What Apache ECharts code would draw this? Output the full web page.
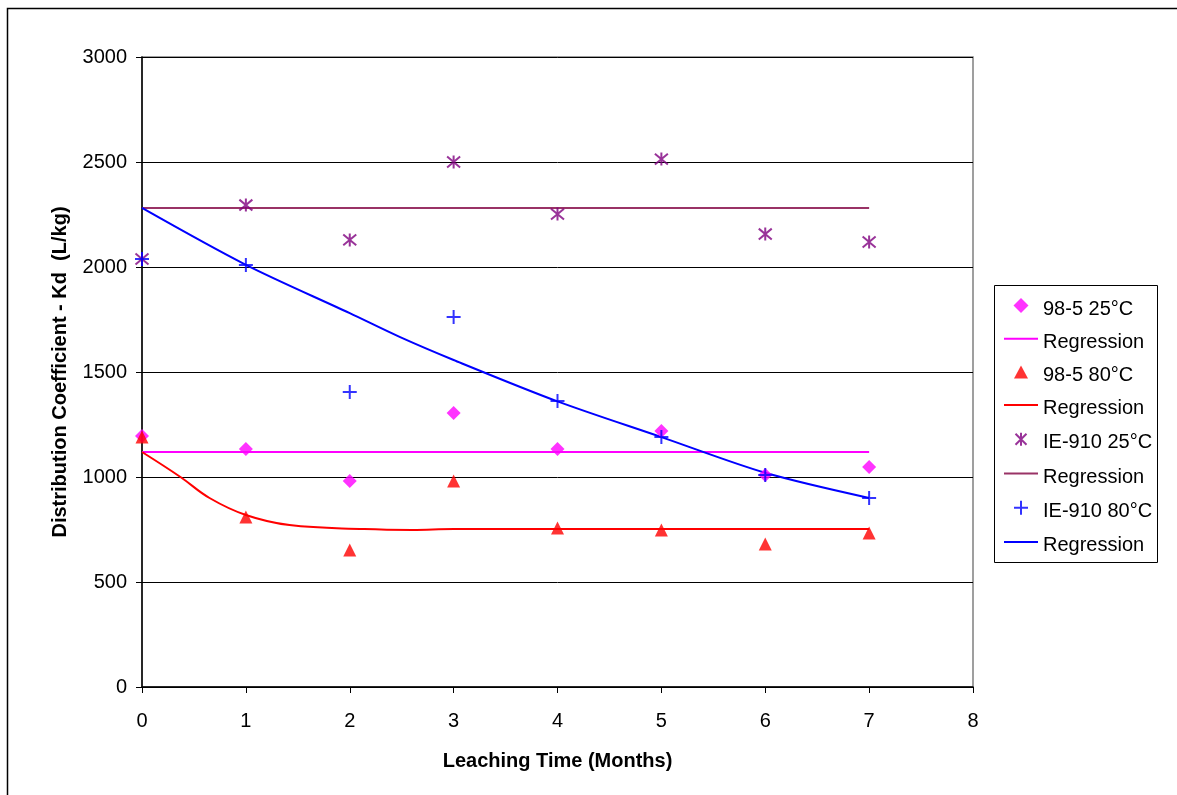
<!DOCTYPE html>
<html>
<head>
<meta charset="utf-8">
<script src="https://cdn.jsdelivr.net/npm/echarts@6/dist/echarts.min.js"></script>
<style>html,body{margin:0;padding:0;background:#fff}#c{width:1177px;height:795px}</style>
</head>
<body>
<div id="c"></div>
<script>
var months = [0, 1, 2, 3, 4, 5, 6, 7];
var s98_25 = [1195, 1133, 981, 1305, 1133, 1219, 1010, 1048];
var s98_80 = [1190, 810, 652, 981, 757, 748, 681, 733];
var ie_25 = [2038, 2295, 2129, 2500, 2252, 2514, 2157, 2119];
var ie_80 = [2038, 2010, 1405, 1762, 1362, 1190, 1010, 900];
var reg98_25 = [[0, 1119], [7, 1119]];
var reg98_80 = [[0, 1119], [0.37, 1000], [0.65, 900], [1, 819], [1.42, 771], [2.14, 752], [2.6, 748], [3, 752], [4, 752], [5, 752], [6, 752], [7, 752]];
var regIe_25 = [[0, 2281], [7, 2281]];
var regIe_80 = [[0, 2281], [1, 2010], [2, 1780], [2.48, 1667], [3, 1557], [4, 1360], [5, 1190], [6, 1020], [7, 900]];

function pts(v) { return months.map(function (m, i) { return [m, v[i]]; }); }

// plot symbols
var diamond = 'path://M5,0L10,5L5,10L0,5Z';
var triangle = 'path://M5,0L10,9L0,9Z';
var asterisk = 'path://M0,0L10,10M10,0L0,10M5,-1L5,11';
var plus = 'path://M5,0L5,10M0,5L10,5';
// legend icons (34x22 box, mark raised like the original legend)
var box = 'M0,0M34,22';
var lgDiamond = 'path://' + box + 'M17,0L24.5,7.5L17,15L9.5,7.5Z';
var lgTriangle = 'path://' + box + 'M17,1L24,14L10,14Z';
var lgAsterisk = 'path://' + box + 'M11.5,2L22.5,13M22.5,2L11.5,13M17,1L17,14';
var lgPlus = 'path://' + box + 'M17,0.5L17,14.5M10,7.5L24,7.5';
var lgLine = 'path://' + box + 'M0,6.5L34,6.5L34,8.5L0,8.5Z';

var chart = echarts.init(document.getElementById('c'));
var font = 'Arial, "Liberation Sans", sans-serif';
chart.setOption({
  animation: false,
  backgroundColor: '#fff',
  textStyle: { fontFamily: font },
  graphic: [{
    type: 'rect', left: 5, top: 6, shape: { width: 1200, height: 820 },
    style: { fill: 'none', stroke: '#000', lineWidth: 1.5 }, silent: true
  }, {
    type: 'rect', shape: { x: 994.5, y: 285.5, width: 163, height: 277 },
    style: { fill: 'none', stroke: '#000', lineWidth: 1 }, silent: true
  }],
  grid: { left: 142, top: 57, right: 204, bottom: 108, show: true, borderColor: '#808080', borderWidth: 1.5 },
  xAxis: {
    type: 'value', min: 0, max: 8, interval: 1,
    name: 'Leaching Time (Months)', nameLocation: 'middle', nameGap: 64,
    nameTextStyle: { fontSize: 20, fontWeight: 'bold', color: '#000', fontFamily: font },
    axisLine: { onZero: false, lineStyle: { color: '#000', width: 1.5 } },
    axisTick: { show: true, length: 6, lineStyle: { color: '#000' } },
    axisLabel: { fontSize: 20, color: '#000', margin: 24, fontFamily: font },
    splitLine: { show: false }
  },
  yAxis: {
    type: 'value', min: 0, max: 3000, interval: 500,
    name: 'Distribution Coefficient - Kd  (L/kg)', nameLocation: 'middle', nameGap: 72,
    nameTextStyle: { fontSize: 20, fontWeight: 'bold', color: '#000', fontFamily: font },
    axisLine: { show: true, lineStyle: { color: '#000', width: 1.5 } },
    axisTick: { show: true, length: 6, lineStyle: { color: '#000' } },
    axisLabel: { fontSize: 20, color: '#000', margin: 15, fontFamily: font, formatter: function (v) { return String(v); } },
    splitLine: { show: true, lineStyle: { color: '#000', width: 1 } }
  },
  legend: {
    orient: 'vertical', left: 994, top: 285,
    padding: [13, 2, 3, 9], itemGap: 11.2, itemWidth: 34, itemHeight: 22,
    symbolKeepAspect: true,
    textStyle: { fontSize: 20, lineHeight: 22, height: 22, color: '#000', fontFamily: font },
    data: [
      { name: '98-5 25°C', icon: lgDiamond }, { name: 'Regression', icon: lgLine },
      { name: '98-5 80°C', icon: lgTriangle }, { name: 'Regression ', icon: lgLine },
      { name: 'IE-910 25°C', icon: lgAsterisk }, { name: 'Regression  ', icon: lgLine },
      { name: 'IE-910 80°C', icon: lgPlus }, { name: 'Regression   ', icon: lgLine }
    ]
  },
  series: [
    { name: '98-5 25°C', type: 'scatter', data: pts(s98_25), symbol: diamond, symbolSize: 14, itemStyle: { color: '#ff00ff' }, z: 5 },
    { name: 'Regression', type: 'line', data: reg98_25, symbol: 'none', lineStyle: { color: '#ff00ff', width: 2 }, itemStyle: { color: '#ff00ff' } },
    { name: '98-5 80°C', type: 'scatter', data: pts(s98_80), symbol: triangle, symbolSize: 13, itemStyle: { color: '#ff0000' }, z: 5 },
    { name: 'Regression ', type: 'line', data: reg98_80, symbol: 'none', smooth: 0.4, lineStyle: { color: '#ff0000', width: 2 }, itemStyle: { color: '#ff0000' } },
    { name: 'IE-910 25°C', type: 'scatter', data: pts(ie_25), symbol: asterisk, symbolSize: 13, itemStyle: { color: 'transparent', borderColor: '#800080', borderWidth: 2 }, z: 5 },
    { name: 'Regression  ', type: 'line', data: regIe_25, symbol: 'none', lineStyle: { color: '#993366', width: 2 }, itemStyle: { color: '#993366' } },
    { name: 'IE-910 80°C', type: 'scatter', data: pts(ie_80), symbol: plus, symbolSize: 14, itemStyle: { color: 'transparent', borderColor: '#0000ff', borderWidth: 2 }, z: 6 },
    { name: 'Regression   ', type: 'line', data: regIe_80, symbol: 'none', smooth: 0.3, lineStyle: { color: '#0000ff', width: 2 }, itemStyle: { color: '#0000ff' } }
  ]
});
</script>
</body>
</html>
